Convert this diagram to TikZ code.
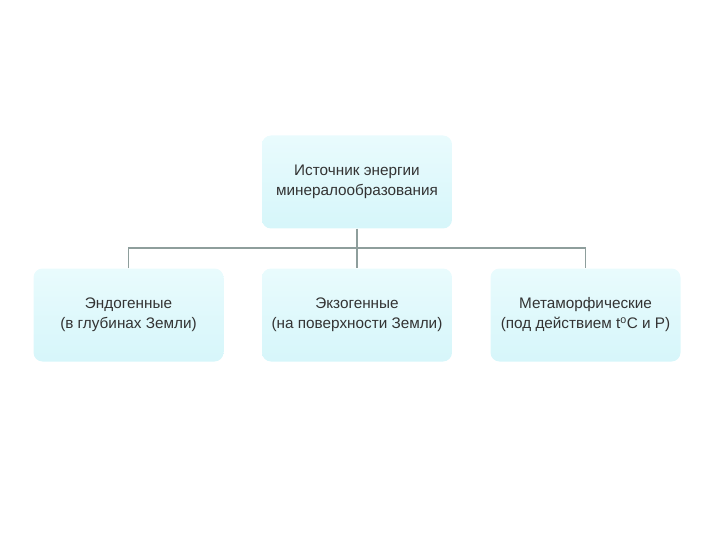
\documentclass[tikz,border=0pt]{standalone}
\usepackage{fontspec}
\setmainfont{Liberation Sans}
\definecolor{boxtop}{HTML}{E9FBFD}
\definecolor{boxbot}{HTML}{D6F6FA}
\definecolor{linec}{HTML}{8E9E9C}
\begin{document}
\begin{tikzpicture}[x=1pt,y=-1pt,
  box/.style={rounded corners=9pt, top color=boxtop, bottom color=boxbot, draw=none,
    minimum width=190pt, minimum height=93pt, align=center,
    font=\fontsize{15.3}{20}\selectfont, text=black!80},
  conn/.style={draw=linec, line width=1.5pt}]
\useasboundingbox (0,0) rectangle (720,540);
\node[box] (top) at (357,182) {Источник энергии\\минералообразования};
\node[box] (l) at (128.5,315) {Эндогенные\\(в глубинах Земли)};
\node[box] (m) at (357,315) {Экзогенные\\(на поверхности Земли)};
\node[box] (r) at (585.5,315) {Метаморфические\\(под действием t\smash{\textsuperscript{o}}C и P)};
\coordinate (j) at (357,248);
\draw[conn] (top.south) -- (j);
\draw[conn] (l.north) -- (l.north |- j) -- (r.north |- j) -- (r.north);
\draw[conn] (j) -- (m.north);
\end{tikzpicture}
\end{document}
